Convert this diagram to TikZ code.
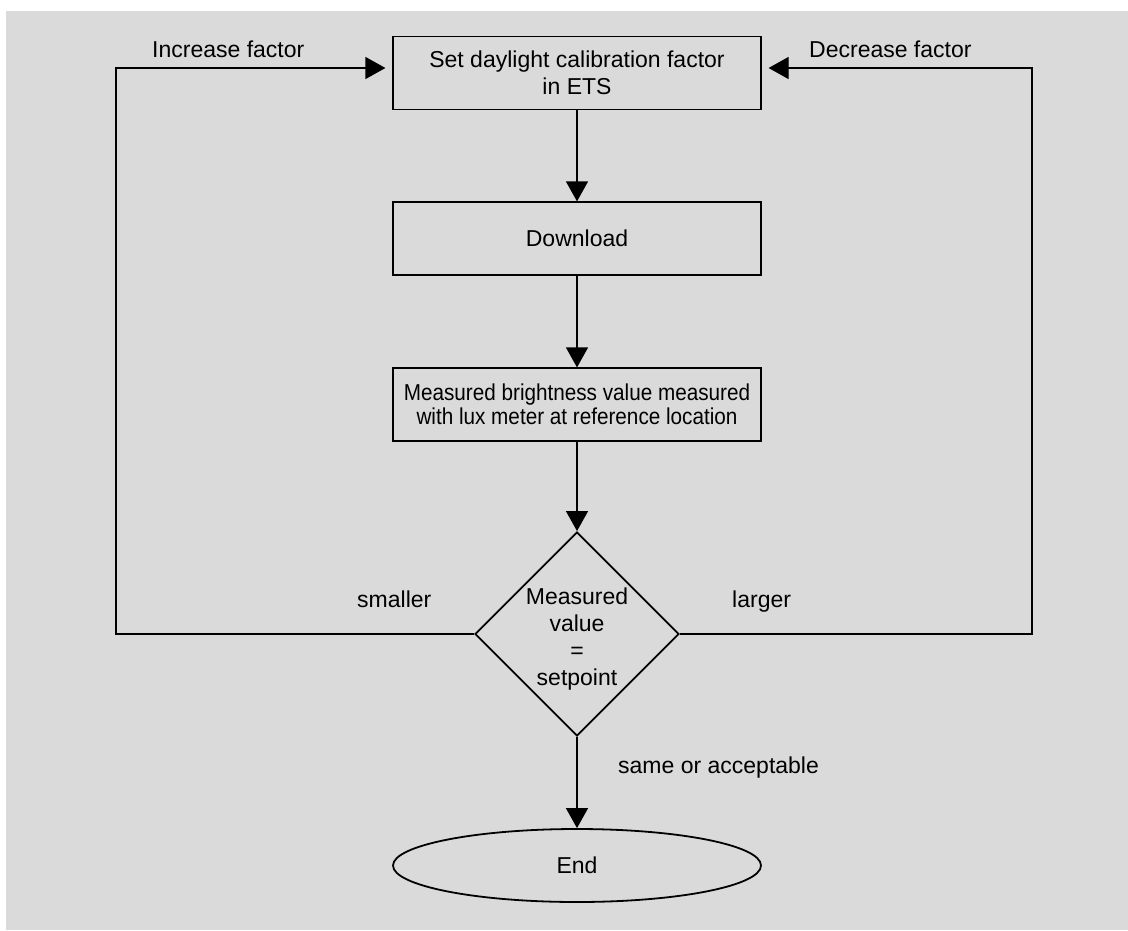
\documentclass[tikz,border=0pt]{standalone}
\usepackage{fontspec}
\setmainfont{Liberation Sans}
\newfontfamily\narrowfont[FakeStretch=0.9]{Liberation Sans}
\usetikzlibrary{arrows.meta,shapes.geometric}
\definecolor{panel}{RGB}{218,218,218}

\begin{document}
\begin{tikzpicture}[x=1pt,y=-1pt,
  font=\fontsize{23}{27}\selectfont,
  stepbox/.style={draw, line width=1.2pt, minimum width=368pt, minimum height=73pt,
                  align=center, inner sep=0pt},
  decision/.style={draw, diamond, line width=1.8pt, minimum width=204pt,
                   minimum height=204pt, inner sep=0pt},
  terminal/.style={draw, ellipse, line width=1.8pt, minimum width=368pt,
                   minimum height=73pt, inner sep=0pt},
  conn/.style={line width=1.2pt, -{Triangle[length=20pt,width=22pt]}},
  tag/.style={anchor=base west, inner sep=0pt}
]
\useasboundingbox (0,0) rectangle (1128,930);
\fill[panel] (6,11) rectangle (1128,930);

% process steps
\node[stepbox] (calib) at (577,73) {Set daylight calibration factor\\in ETS};
\node[stepbox] (load) at (577,238.5) {Download};
\node[stepbox, font=\narrowfont\fontsize{23}{24}\selectfont] (meas) at (577,404.5)
  {Measured brightness value measured\\with lux meter at reference location};
\node[decision, label={[align=center, yshift=-5pt]center:Measured\\value\\=\\setpoint}]
  (dec) at (577,634) {};
\node[terminal] (stop) at (577,865.5) {End};

% main flow
\draw[conn] (calib) -- (load);
\draw[conn] (load) -- (meas);
\draw[conn] (meas) -- (dec);
\draw[conn] (dec) -- (stop);

% feedback loops
\coordinate (lt) at (116,68);
\coordinate (rt) at (1032,68);
\draw[conn, shorten >=7pt] (dec.west) -| (lt) -- (calib.west |- lt);
\draw[conn, shorten >=7pt] (dec.east) -| (rt) -- (calib.east |- rt);

% branch labels
\node[tag] (inc) at (152,57) {Increase factor};
\node[tag] (decr) at (809,57) {Decrease factor};
\node[tag] (sm) at (357,607) {smaller};
\node[tag] (lg) at (732,607) {larger};
\node[tag] (ok) at (618,773) {same or acceptable};
\end{tikzpicture}
\end{document}
